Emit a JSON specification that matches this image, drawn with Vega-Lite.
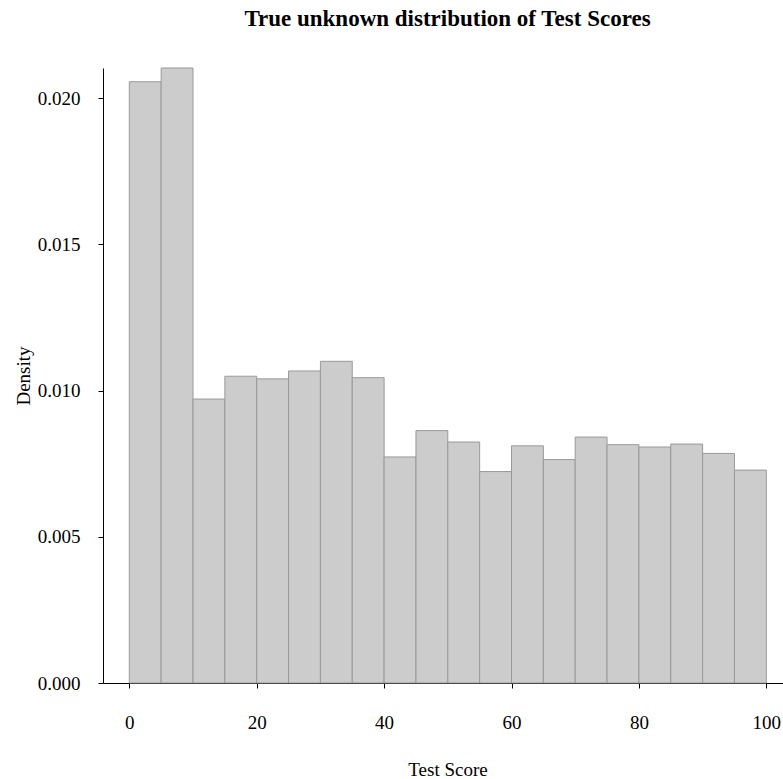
{
  "$schema": "https://vega.github.io/schema/vega-lite/v6.json",
  "width": 680,
  "height": 615,
  "autosize": {"type": "none"},
  "padding": {"left": 103, "top": 68, "right": 0, "bottom": 96},
  "background": "white",
  "title": {
    "text": "True unknown distribution of Test Scores",
    "font": "Liberation Serif",
    "fontSize": 23,
    "fontWeight": "bold",
    "color": "black",
    "baseline": "alphabetic",
    "offset": 19,
    "dx": 4.5
  },
  "data": {
    "values": [
      {"start": 0, "end": 5, "density": 0.02056},
      {"start": 5, "end": 10, "density": 0.02103},
      {"start": 10, "end": 15, "density": 0.00971},
      {"start": 15, "end": 20, "density": 0.01049},
      {"start": 20, "end": 25, "density": 0.01040},
      {"start": 25, "end": 30, "density": 0.01067},
      {"start": 30, "end": 35, "density": 0.01100},
      {"start": 35, "end": 40, "density": 0.01044},
      {"start": 40, "end": 45, "density": 0.00773},
      {"start": 45, "end": 50, "density": 0.00863},
      {"start": 50, "end": 55, "density": 0.00824},
      {"start": 55, "end": 60, "density": 0.00723},
      {"start": 60, "end": 65, "density": 0.00811},
      {"start": 65, "end": 70, "density": 0.00764},
      {"start": 70, "end": 75, "density": 0.00841},
      {"start": 75, "end": 80, "density": 0.00815},
      {"start": 80, "end": 85, "density": 0.00807},
      {"start": 85, "end": 90, "density": 0.00817},
      {"start": 90, "end": 95, "density": 0.00785},
      {"start": 95, "end": 100, "density": 0.00728}
    ]
  },
  "mark": {"type": "rect", "fill": "#cccccc", "stroke": "#999999", "strokeWidth": 1},
  "encoding": {
    "x": {
      "field": "start",
      "type": "quantitative",
      "scale": {"domain": [-4.13, 102.62], "nice": false, "zero": false},
      "axis": {
        "title": "Test Score",
        "values": [0, 20, 40, 60, 80, 100],
        "grid": false,
        "domainColor": "black",
        "tickColor": "black",
        "tickSize": 5,
        "labelFont": "Liberation Serif",
        "labelFontSize": 19,
        "labelColor": "black",
        "labelPadding": 25,
        "labelFlush": false,
        "labelOverlap": false,
        "titleFont": "Liberation Serif",
        "titleFontSize": 19,
        "titleFontWeight": "normal",
        "titleColor": "black",
        "titleBaseline": "alphabetic",
        "titleX": 344.5,
        "titleY": 92
      }
    },
    "x2": {"field": "end"},
    "y": {
      "field": "density",
      "type": "quantitative",
      "scale": {"domain": [0, 0.02103], "nice": false},
      "axis": {
        "title": "Density",
        "values": [0, 0.005, 0.01, 0.015, 0.02],
        "format": ".3f",
        "grid": false,
        "domainColor": "black",
        "tickColor": "black",
        "tickSize": 5,
        "labelFont": "Liberation Serif",
        "labelFontSize": 19,
        "labelColor": "black",
        "labelPadding": 18,
        "labelFlush": false,
        "labelOverlap": false,
        "titleFont": "Liberation Serif",
        "titleFontSize": 19,
        "titleFontWeight": "normal",
        "titleColor": "black",
        "titleBaseline": "alphabetic",
        "titleX": -74,
        "titleY": 307.5,
        "titleAngle": -90
      }
    },
    "y2": {"datum": 0}
  },
  "config": {"view": {"stroke": null}}
}
